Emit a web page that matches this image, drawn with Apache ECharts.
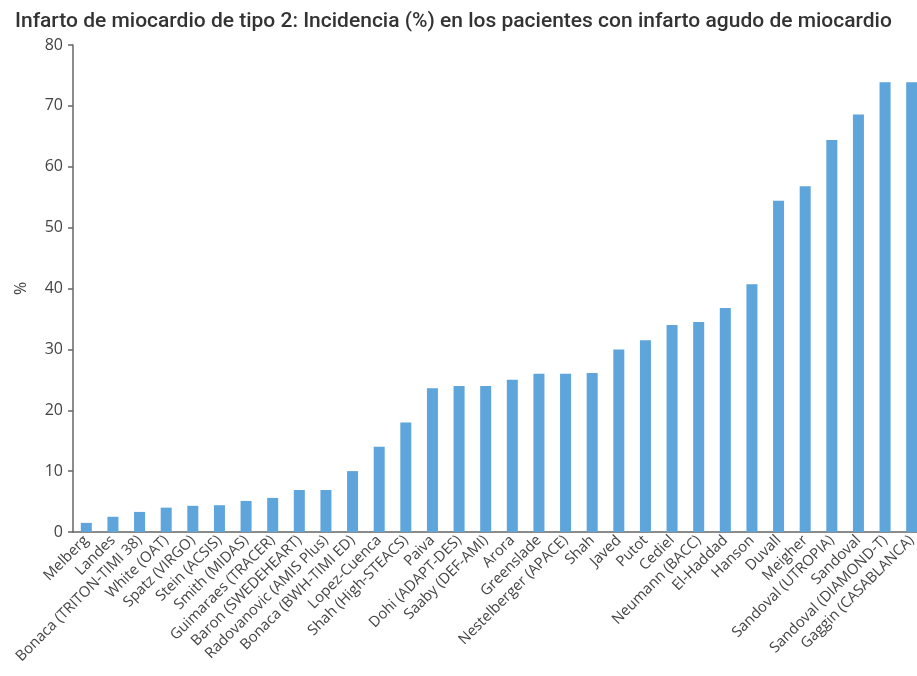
<!DOCTYPE html>
<html><head><meta charset="utf-8">
<script src="https://cdn.jsdelivr.net/npm/echarts@6/dist/echarts.min.js"></script>
<style>html,body{margin:0;padding:0;background:#fff}#c{width:917px;height:676px}</style>
</head><body><div id="c"></div>
<script>
const categories = ["Melberg","Landes","Bonaca (TRITON-TIMI 38)","White (OAT)","Spatz (VIRGO)","Stein (ACSIS)","Smith (MIDAS)","Guimaraes (TRACER)","Baron (SWEDEHEART)","Radovanovic (AMIS Plus)","Bonaca (BWH-TIMI ED)","Lopez-Cuenca","Shah (High-STEACS)","Paiva","Dohi (ADAPT-DES)","Saaby (DEF-AMI)","Arora","Greenslade","Nestelberger (APACE)","Shah","Javed","Putot","Cediel","Neumann (BACC)","El-Haddad","Hanson","Duvall","Meigher","Sandoval (UTROPIA)","Sandoval","Sandoval (DIAMOND-T)","Gaggin (CASABLANCA)"];
const values = [1.5,2.5,3.3,4.0,4.3,4.4,5.1,5.6,6.9,6.9,10.0,14.0,18.0,23.6,24.0,24.0,25.0,26.0,26.0,26.1,30.0,31.5,34.0,34.5,36.8,40.7,54.4,56.8,64.4,68.6,73.9,73.9];
const titleText = "Infarto de miocardio de tipo 2: Incidencia (%) en los pacientes con infarto agudo de miocardio";
const chart = echarts.init(document.getElementById('c'));
chart.setOption({
  animation:false,
  title:{text:titleText,left:10,top:6,textStyle:{fontFamily:'Roboto',fontWeight:500,fontSize:21,color:'#333'}},
  grid:{left:73,width:852,top:45,bottom:144,containLabel:false,outerBoundsMode:'none'},
  xAxis:{type:'category',data:categories,
    axisLine:{lineStyle:{color:'#666',width:1.5}},axisTick:{show:false},
    axisLabel:{interval:0,rotate:45,fontFamily:'Open Sans',fontSize:14.8,color:'#444',margin:6}},
  yAxis:{type:'value',min:0,max:80,interval:10,name:'%',nameLocation:'middle',nameGap:44,nameRotate:90,
    nameTextStyle:{fontFamily:'Open Sans',fontSize:16,color:'#444'},
    axisLine:{show:true,lineStyle:{color:'#666',width:1.5}},axisTick:{show:true,length:5,lineStyle:{color:'#666',width:1.5}},
    splitLine:{show:false},
    axisLabel:{fontFamily:'Open Sans',fontSize:16,color:'#444',margin:10}},
  series:[{type:'bar',data:values,barWidth:11,itemStyle:{color:'#5DA5DA'}}]
});
</script></body></html>
